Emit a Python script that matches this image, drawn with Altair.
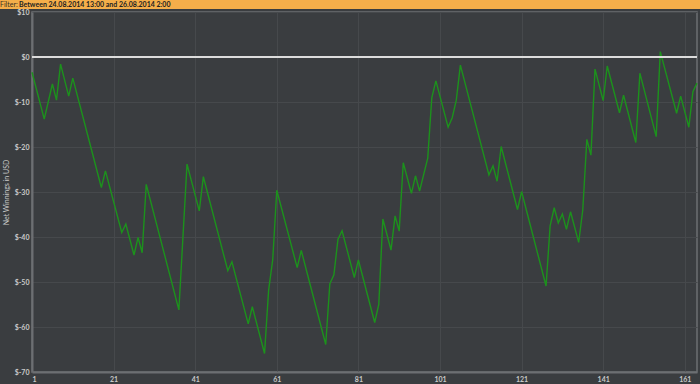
import altair as alt
import pandas as pd

# Hand number (x) and cumulative net winnings in USD (y) at the vertices of the line
hand = [1, 4, 6, 7, 8, 10, 11, 18, 19, 23, 24, 26, 27, 28, 29, 37, 39, 42, 43,
        49, 50, 54, 55, 58, 59, 60, 61, 66, 67, 73, 74, 75, 76, 77, 80, 81,
        85, 86, 87, 89, 90, 91, 92, 94, 95, 96, 98, 99, 100, 103, 104, 105,
        106, 113, 114, 115, 116, 120, 121, 127, 128, 129, 130, 131, 132, 133,
        135, 136, 137, 138, 139, 141, 142, 145, 146, 149, 150, 154, 155, 159,
        160, 162, 163, 164]
net = [-3.4, -13.8, -6.0, -9.6, -1.6, -8.7, -4.7, -29.0, -25.3, -39.0, -37.1,
       -44.0, -40.1, -43.5, -28.3, -56.2, -23.8, -34.2, -26.6,
       -47.5, -45.5, -59.3, -55.5, -65.9, -51.8, -45.1, -29.6, -46.8, -43.0,
       -63.9, -50.4, -48.4, -40.5, -38.6, -49.0, -45.1,
       -59.0, -55.0, -36.0, -42.9, -35.3, -38.7, -23.5, -30.3, -26.4, -29.8,
       -22.5, -9.0, -5.3, -15.6, -13.5, -9.6,
       -1.8, -26.2, -24.2, -27.6, -19.9, -33.9, -29.9, -50.9, -37.5, -33.5,
       -36.9, -34.9, -38.3, -34.4,
       -41.2, -34.0, -18.3, -21.8, -2.7, -9.7, -2.0, -12.4, -8.5, -19.0, -3.6,
       -17.7, 1.2, -12.5, -8.7, -15.6, -7.7, -5.8]

x_ticks = [1, 21, 41, 61, 81, 101, 121, 141, 161]
y_ticks = [-70, -60, -50, -40, -30, -20, -10, 0, 10]

filter_label = "Filter:"
filter_text = "Between 24.08.2014 13:00 and 26.08.2014 2:00"

df = pd.DataFrame({"hand": hand, "net": net})
zero_df = pd.DataFrame({"net": [0]})

BG = "#3a3d40"
GRID = "#46494c"
AXIS = "#6c6f72"
LABEL = "#c9c9c9"
FONT = "Lato"

x_enc = alt.X(
    "hand:Q",
    scale=alt.Scale(domain=[1, 164], nice=False, zero=False),
    axis=alt.Axis(values=x_ticks, title=None, format="d", labelFontSize=7,
                  labelColor=LABEL, labelFont=FONT, ticks=False, labelPadding=3,
                  domainColor=AXIS, domainWidth=2, gridColor=GRID, gridWidth=1,
                  labelFontWeight="bold"),
)
y_enc = alt.Y(
    "net:Q",
    scale=alt.Scale(domain=[-70, 10], nice=False, zero=False),
    axis=alt.Axis(values=y_ticks, labelExpr="'$' + datum.value",
                  title="Net Winnings in USD", titleFontSize=7,
                  titleFontWeight="normal", titleColor=LABEL, titleFont=FONT,
                  titleX=-23, titleY=180, titleAngle=270,
                  labelFontSize=7, labelColor=LABEL, labelFont=FONT,
                  labelFontWeight="bold",
                  ticks=False, labelPadding=3, domainColor=AXIS, domainWidth=2,
                  gridColor=GRID, gridWidth=1),
)

line = alt.Chart(df).mark_line(color="#1c921c", strokeWidth=1.4).encode(x=x_enc, y=y_enc)

zero = alt.Chart(zero_df).mark_rule(color="#dcdcdc", strokeWidth=2).encode(y="net:Q")

banner = alt.Chart(zero_df).mark_rect(color="#f5ae4a").encode(
    x=alt.value(-32), x2=alt.value(668), y=alt.value(-12), y2=alt.value(-3)
)
banner_label = alt.Chart(zero_df).mark_text(
    align="left", baseline="alphabetic", fontSize=7, font=FONT, color="#3a3020"
).encode(x=alt.value(-32), y=alt.value(-5.3), text=alt.value(filter_label))
banner_text = alt.Chart(zero_df).mark_text(
    align="left", baseline="alphabetic", fontSize=7, font=FONT,
    fontWeight="bold", color="#222222"
).encode(x=alt.value(-13), y=alt.value(-5.3), text=alt.value(filter_text))

chart = alt.layer(line, zero, banner, banner_label, banner_text).properties(
    width=665, height=360,
    padding={"left": 32, "top": 12, "right": 3, "bottom": 12},
    autosize=alt.AutoSizeParams(type="none"),
    background=BG,
).configure_view(fill=BG, stroke=AXIS, strokeWidth=1.5)

chart.save("out.html", embed_options={"renderer": "svg", "actions": False})
